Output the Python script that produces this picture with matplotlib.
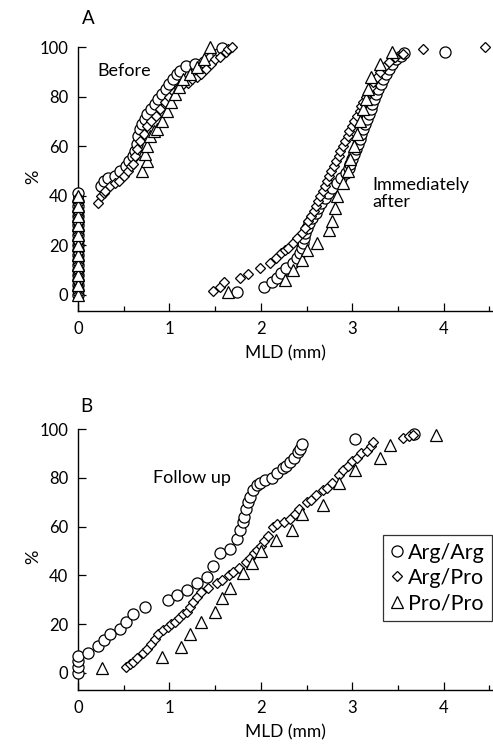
import matplotlib
matplotlib.use("Agg")
import matplotlib.pyplot as plt
from matplotlib.ticker import MultipleLocator
from matplotlib.lines import Line2D

plt.rcParams['font.family'] = ['Lato', 'DejaVu Sans']

genotypes = ["Arg/Arg", "Arg/Pro", "Pro/Pro"]
markers = {"Arg/Arg": "o", "Arg/Pro": "D", "Pro/Pro": "^"}
msizes = {"Arg/Arg": 8.0, "Arg/Pro": 5.6, "Pro/Pro": 8.0}

# ---------- Panel A: Before ----------
before_argarg_x = [0]*21 + [0.25, 0.28, 0.33, 0.40, 0.46, 0.52, 0.56, 0.60, 0.62, 0.64, 0.66,
                            0.68, 0.70, 0.73, 0.76, 0.80, 0.84, 0.88, 0.92, 0.96, 1.00, 1.04,
                            1.08, 1.12, 1.18, 1.28, 1.38, 1.46, 1.53, 1.58]
before_argarg_y = [0, 2, 4, 6, 8, 10, 12, 14, 16, 18, 20, 22, 24, 26, 28, 30, 32, 34, 36, 38, 41,
                   44, 46, 47, 48, 50, 52, 54, 56, 58, 61, 64, 67, 69, 71, 73, 75, 77, 79, 81,
                   83, 85, 87, 89, 90.5, 92.5, 93, 94, 95.5, 97, 99.5]

before_argpro_x = [0]*27 + [0.22, 0.25, 0.28, 0.30, 0.35, 0.40, 0.45, 0.50, 0.55, 0.58, 0.60,
                            0.62, 0.65, 0.68, 0.72, 0.76, 0.80, 0.85, 0.90, 0.95, 1.00, 1.05,
                            1.10, 1.15, 1.20, 1.25, 1.30, 1.35, 1.40, 1.45, 1.50, 1.55, 1.62,
                            1.64, 1.69]
before_argpro_y = [0.5, 2, 3.5, 5, 6.5, 8, 9.5, 11, 12.5, 14, 15.5, 17, 18.5, 20, 21.5, 23, 24.5, 26,
                   27.5, 29, 30.5, 32, 33.5, 35, 36.5, 38, 39.5,
                   37, 40, 41, 42, 44, 45, 46, 48, 50, 52, 53, 56, 59, 62, 65, 68, 70, 72, 75,
                   78, 80, 82, 84, 85, 85.5, 87, 88, 89, 91, 93, 95, 96, 98, 99, 100]

before_propro_x = [0]*11 + [0.70, 0.75, 0.73, 0.76, 0.79, 0.83, 0.86, 0.92, 0.97, 1.02, 1.06,
                            1.10, 1.15, 1.22, 1.30, 1.38, 1.44]
before_propro_y = [0, 4, 8, 12, 16, 20, 24, 28, 32, 36, 40,
                   50, 54, 57, 60, 64, 66, 67, 70, 74, 78, 81, 84, 87, 89, 92, 95, 100]

# ---------- Panel A: Immediately after ----------
after_argarg_x = [1.74, 2.04, 2.12, 2.18, 2.22, 2.28, 2.35, 2.40, 2.43, 2.45, 2.46, 2.47, 2.48,
                  2.50, 2.53, 2.56, 2.60, 2.63, 2.66, 2.70, 2.74, 2.78, 2.83, 2.88, 2.93, 2.96,
                  2.98, 3.00, 3.02, 3.04, 3.06, 3.08, 3.10, 3.12, 3.14, 3.16, 3.18, 3.20, 3.22,
                  3.24, 3.26, 3.28, 3.31, 3.34, 3.37, 3.40, 3.44, 3.48, 3.53, 3.57, 4.01]
after_argarg_y = [1, 3, 5, 7, 9, 11, 13, 15, 17, 19, 21, 23, 25, 27, 29, 31, 33, 35, 37, 39, 41,
                  43, 45, 47, 49, 51, 53, 55, 57, 59, 61, 63, 65, 67, 69, 71, 73, 75, 77, 79,
                  81, 83, 85, 87, 89, 91, 93, 95, 96.5, 97.5, 98]

after_argpro_x = [1.48, 1.55, 1.60, 1.77, 1.86, 1.99, 2.10, 2.17, 2.22, 2.26, 2.30, 2.35, 2.40,
                  2.45, 2.48, 2.52, 2.55, 2.58, 2.60, 2.63, 2.65, 2.68, 2.70, 2.72, 2.75, 2.77,
                  2.80, 2.82, 2.85, 2.87, 2.90, 2.92, 2.95, 2.97, 3.00, 3.02, 3.05, 3.08, 3.10,
                  3.12, 3.15, 3.18, 3.20, 3.23, 3.27, 3.30, 3.35, 3.40, 3.47, 3.55, 3.77, 4.45]
after_argpro_y = [1.5, 3, 5, 7, 8.5, 11, 13, 15, 17, 18, 19, 21, 23, 25, 27, 30, 32, 34, 36, 38,
                  40, 42, 44, 46, 48, 50, 52, 54, 56, 58, 60, 62, 64, 66, 68, 70, 72, 74, 76,
                  78, 80, 82, 84, 86, 88, 90, 92, 94, 96, 97, 99, 100]

after_propro_x = [1.64, 2.26, 2.35, 2.45, 2.50, 2.62, 2.75, 2.78, 2.81, 2.83, 2.90, 2.95, 2.98,
                  3.02, 3.05, 3.08, 3.12, 3.15, 3.17, 3.21, 3.30, 3.43]
after_propro_y = [1, 6, 10, 14, 18, 21, 26, 30, 35, 40, 45, 50, 55, 60, 65, 70, 75, 79, 83, 88,
                  93, 98]

# ---------- Panel B: Follow up ----------
fu_argarg_x = [0, 0, 0, 0, 0.11, 0.22, 0.28, 0.35, 0.46, 0.53, 0.60, 0.73, 0.99, 1.08, 1.19,
               1.30, 1.41, 1.48, 1.55, 1.66, 1.74, 1.77, 1.80, 1.82, 1.84, 1.86, 1.88, 1.91,
               1.96, 1.99, 2.05, 2.12, 2.18, 2.24, 2.28, 2.32, 2.36, 2.41, 2.43, 2.45, 3.03, 3.68]
fu_argarg_y = [0, 2.5, 5, 7, 8, 11, 13.5, 16, 18, 21, 24, 27, 30, 32, 34, 37, 39.5, 44, 49, 51,
               55, 58.6, 62, 64, 67, 70, 72, 75, 77, 78, 79, 80, 82, 84, 85, 86.5, 88, 90.5,
               92, 94, 96, 98]

fu_argpro_x = [0.53, 0.57, 0.60, 0.65, 0.71, 0.76, 0.80, 0.84, 0.88, 0.93, 0.98, 1.02, 1.06,
               1.10, 1.15, 1.19, 1.22, 1.26, 1.30, 1.35, 1.42, 1.52, 1.58, 1.65, 1.70, 1.76,
               1.84, 1.88, 1.92, 1.96, 2.00, 2.04, 2.08, 2.13, 2.18, 2.25, 2.32, 2.37, 2.42,
               2.50, 2.55, 2.60, 2.68, 2.72, 2.78, 2.86, 2.90, 2.95, 3.00, 3.05, 3.10, 3.16,
               3.20, 3.23, 3.55, 3.62, 3.66]
fu_argpro_y = [2.5, 3.5, 4.5, 6, 8, 10, 12, 14, 16, 17.6, 19, 20, 21, 22.5, 24, 25, 27, 29, 31,
               33, 35, 37, 38, 40, 41.5, 43, 45.5, 47, 49, 50.5, 52, 54, 56, 60, 61, 62, 63,
               65, 67, 70, 71, 73, 75, 76, 78, 81, 83, 85, 87, 88, 90, 91, 93, 94.7, 96.3, 97,
               97.5]

fu_propro_x = [0.26, 0.92, 1.13, 1.22, 1.35, 1.50, 1.57, 1.66, 1.80, 1.90, 2.00, 2.17, 2.34,
               2.45, 2.68, 2.86, 3.03, 3.30, 3.41, 3.92]
fu_propro_y = [2, 6.6, 10.7, 16, 21, 25, 30.7, 35, 41, 45, 50, 54.5, 58.6, 65, 69, 78, 83, 88,
               93.4, 97.5]

W, H = 493, 746
fig = plt.figure(figsize=(W/100, H/100), dpi=100)
axA = fig.add_axes([78/W, 1-311/H, (W-78)/W, 264/H])
axB = fig.add_axes([78/W, 1-690/H, (W-78)/W, 261/H])


def draw(ax, series):
    for name, xs, ys in series:
        ax.plot(xs, ys, linestyle='none', marker=markers[name], markersize=msizes[name],
                markerfacecolor='white', markeredgecolor='black', markeredgewidth=0.9,
                clip_on=False, zorder=3)


draw(axA, [("Arg/Arg", before_argarg_x, before_argarg_y),
           ("Arg/Pro", before_argpro_x, before_argpro_y),
           ("Pro/Pro", before_propro_x, before_propro_y),
           ("Arg/Arg", after_argarg_x, after_argarg_y),
           ("Arg/Pro", after_argpro_x, after_argpro_y),
           ("Pro/Pro", after_propro_x, after_propro_y)])
draw(axB, [("Arg/Arg", fu_argarg_x, fu_argarg_y),
           ("Arg/Pro", fu_argpro_x, fu_argpro_y),
           ("Pro/Pro", fu_propro_x, fu_propro_y)])

for ax, ylo in ((axA, -6.5), (axB, -7)):
    ax.set_xlim(0, 4.54)
    ax.set_ylim(ylo, 100)
    ax.spines['top'].set_visible(False)
    ax.spines['right'].set_visible(False)
    ax.spines['left'].set_bounds(ylo, 100)
    ax.spines['left'].set_linewidth(1.0)
    ax.spines['bottom'].set_linewidth(1.0)
    ax.xaxis.set_major_locator(MultipleLocator(1))
    ax.xaxis.set_minor_locator(MultipleLocator(0.5))
    ax.yaxis.set_major_locator(MultipleLocator(20))
    ax.tick_params(axis='both', which='major', direction='in', length=6, width=0.9,
                   labelsize=12, pad=7)
    ax.tick_params(axis='x', which='minor', direction='in', length=3.5, width=0.9)
    ax.set_xlabel("MLD (mm)", fontsize=12.5, labelpad=6)
    ax.set_ylabel("%", fontsize=13)
    ax.yaxis.set_label_coords(-0.088, 0.51)

axA.text(0.21, 90.5, "Before", fontsize=13, va='center', ha='left')
axA.text(3.22, 41, "Immediately\nafter", fontsize=13, va='center', ha='left', linespacing=1.1)
axB.text(0.82, 80, "Follow up", fontsize=13, va='center', ha='left')
axA.text(0.01, 1.075, "A", transform=axA.transAxes, fontsize=13.5, va='bottom', ha='left')
axB.text(0.005, 1.055, "B", transform=axB.transAxes, fontsize=13.5, va='bottom', ha='left')

handles = [Line2D([], [], linestyle='none', marker=markers[g], markersize=msizes[g],
                  markerfacecolor='white', markeredgecolor='black', markeredgewidth=0.9)
           for g in genotypes]
leg = axB.legend(handles, genotypes, loc='upper left', bbox_to_anchor=(0.735, 0.594),
                 frameon=True, fancybox=False, edgecolor='black', fontsize=15.5,
                 handlelength=0.6, handletextpad=0.2, borderpad=0.35, labelspacing=0.25,
                 borderaxespad=0)
leg.get_frame().set_linewidth(0.9)

fig.savefig("out.png", dpi=100)
